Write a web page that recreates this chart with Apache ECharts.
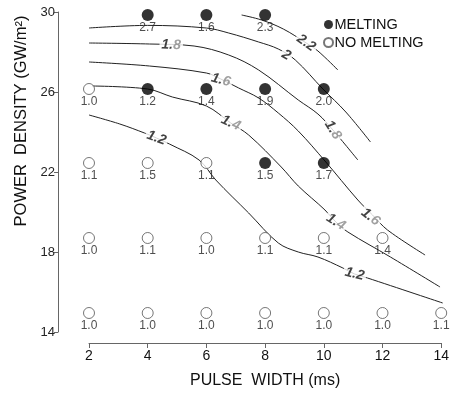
<!DOCTYPE html>
<html>
<head>
<meta charset="utf-8">
<script src="https://cdn.jsdelivr.net/npm/echarts@6/dist/echarts.min.js"></script>
<style>
  html, body { margin: 0; padding: 0; background: #fff; }
  #chart { width: 452px; height: 394px; }
</style>
</head>
<body>
<div id="chart"></div>
<script>
// Axis ticks
const widthTicks = [2, 4, 6, 8, 10, 12, 14];
const densityTicks = [14, 18, 22, 26, 30];

// Test shots: [pulse width (ms), power density (GW/m2), ratio printed under the marker]
const meltingPoints = [
  [4, 29.85, 2.7], [6, 29.85, 1.6], [8, 29.85, 2.3],
  [4, 26.15, 1.2], [6, 26.15, 1.4], [8, 26.15, 1.9], [10, 26.15, 2.0],
  [8, 22.45, 1.5], [10, 22.45, 1.7]
];
const noMeltingPoints = [
  [2, 26.15, 1.0],
  [2, 22.45, 1.1], [4, 22.45, 1.5], [6, 22.45, 1.1],
  [2, 18.7, 1.0], [4, 18.7, 1.1], [6, 18.7, 1.0], [8, 18.7, 1.1], [10, 18.7, 1.1], [12, 18.7, 1.4],
  [2, 14.95, 1.0], [4, 14.95, 1.0], [6, 14.95, 1.0], [8, 14.95, 1.0], [10, 14.95, 1.0], [12, 14.95, 1.0], [14, 14.95, 1.1]
];

// Iso-ratio contour lines: [pulse width, power density]
const contour22 = [[7.2, 29.85], [7.88, 29.6], [8.62, 29.15], [9.4, 28.45], [9.8, 28.05], [10.48, 27.1]];
const contour20 = [[2, 29.2], [4, 29.33], [6, 29.2], [6.76, 28.95], [7.78, 28.5], [8.45, 28.15], [9.03, 27.6], [9.97, 26.15], [10.75, 25.0], [11.59, 23.5]];
const contour18 = [[2, 28.45], [4.06, 28.4], [5.58, 28.3], [6.76, 27.85], [7.78, 27.1], [9.13, 25.6], [9.8, 24.9], [10.31, 24.1], [11.16, 22.6]];
const contour16 = [[2, 27.5], [4.06, 27.3], [6, 26.95], [6.49, 26.65], [7.1, 26.2], [7.78, 25.7], [8.45, 24.95], [9.13, 24.05], [10.04, 22.55], [11.16, 20.6], [11.66, 19.85], [12.17, 19.1], [13.45, 17.85]];
const contour14 = [[2.1, 26.3], [4, 26.15], [4.84, 25.75], [6, 25.3], [6.83, 24.45], [7.44, 23.85], [8.55, 22.25], [9.13, 21.3], [10.04, 20.1], [10.41, 19.5], [10.82, 19.0], [12.27, 17.75], [13.96, 16.25]];
const contour12 = [[2, 24.85], [3.05, 24.4], [3.89, 23.95], [4.3, 23.7], [4.74, 23.4], [5.75, 22.6], [6.32, 21.6], [7.44, 19.95], [8.45, 18.45], [9.13, 18.0], [9.8, 17.75], [10.65, 17.2], [11.05, 16.9], [11.49, 16.7], [14.05, 15.45]];

// Contour level tags: [pulse width, power density, text]
const contourTags = [
  [9.4, 28.45, '2.2'], [8.72, 27.85, '2'],
  [4.8, 28.35, '1.8'], [10.31, 24.1, '1.8'],
  [6.49, 26.6, '1.6'], [11.59, 19.75, '1.6'],
  [6.83, 24.45, '1.4'], [10.41, 19.5, '1.4'],
  [4.3, 23.7, '1.2'], [11.05, 16.9, '1.2']
];
const contourTagAngles = [-35, -30, -2, -58, -15, -38, -25, -32, -20, -14];

const FONT = '"Liberation Sans", Arial, Helvetica, sans-serif';

function contourSeries(data) {
  return {
    type: 'line', data: data, smooth: 0.35, showSymbol: false, silent: true, clip: false, z: 1,
    lineStyle: { color: '#222', width: 1 }
  };
}

// second digit of 1.4 / 1.6 / 1.8 tags is printed grey
function tagText(t) {
  if (t.length === 3 && t[0] === '1' && t[2] !== '2') return '{k|' + t.slice(0, 2) + '}{g|' + t[2] + '}';
  return '{k|' + t + '}';
}

const tagStyle = { fontFamily: FONT, fontSize: 14, fontWeight: 'bold', fontStyle: 'italic' };

const pointLabel = {
  show: true, position: 'bottom', distance: 1,
  fontFamily: FONT, fontSize: 12, color: '#222',
  formatter: p => p.value[2].toFixed(1)
};

const chart = echarts.init(document.getElementById('chart'), null, { renderer: 'canvas' });
chart.setOption({
  backgroundColor: '#fff',
  animation: false,
  textStyle: { fontFamily: FONT },
  grid: { left: 89, right: 8, top: 12, bottom: 62 },
  legend: {
    orient: 'vertical', left: 318, top: 12, itemGap: 3,
    itemWidth: 10, itemHeight: 9, icon: 'circle',
    textStyle: { fontFamily: FONT, fontSize: 14.5, color: '#111', padding: [0, 0, 0, -4] },
    data: ['MELTING', 'NO MELTING']
  },
  xAxis: {
    type: 'value', min: widthTicks[0], max: widthTicks[widthTicks.length - 1], interval: 2,
    offset: 11,
    name: 'PULSE  WIDTH (ms)', nameLocation: 'middle', nameGap: 30,
    nameTextStyle: { fontFamily: FONT, fontSize: 16, color: '#111' },
    axisLine: { show: true, lineStyle: { color: '#666', width: 1 } },
    axisTick: { show: true, length: 5, lineStyle: { color: '#666' } },
    axisLabel: { fontFamily: FONT, fontSize: 14, color: '#111', margin: 6 },
    splitLine: { show: false }
  },
  yAxis: {
    type: 'value', min: densityTicks[0], max: densityTicks[densityTicks.length - 1], interval: 4,
    offset: 31,
    axisLine: { show: true, lineStyle: { color: '#666', width: 1 } },
    axisTick: { show: true, length: 4, lineStyle: { color: '#666' } },
    axisLabel: { fontFamily: FONT, fontSize: 13, color: '#222', margin: 3 },
    splitLine: { show: false }
  },
  graphic: [{
    type: 'text', x: 21, y: 121, rotation: Math.PI / 2,
    style: {
      text: 'POWER  DENSITY (GW/m²)', font: '16.5px ' + FONT, fill: '#111',
      align: 'center', verticalAlign: 'middle'
    }
  }],
  series: [
    contourSeries(contour22), contourSeries(contour20), contourSeries(contour18),
    contourSeries(contour16), contourSeries(contour14), contourSeries(contour12),
    {
      type: 'scatter', silent: true, z: 3, symbolSize: 0, clip: false,
      data: contourTags.map((t, i) => ({
        value: [t[0], t[1]],
        label: { rotate: contourTagAngles[i], formatter: tagText(t[2]) }
      })),
      label: {
        show: true, position: 'inside', backgroundColor: '#fff', padding: [0, 2],
        rich: {
          k: Object.assign({ color: '#111' }, tagStyle),
          g: Object.assign({ color: '#888' }, tagStyle)
        }
      }
    },
    {
      name: 'MELTING', type: 'scatter', z: 5, clip: false,
      symbol: 'circle', symbolSize: 12,
      itemStyle: { color: '#000' },
      label: pointLabel,
      data: meltingPoints
    },
    {
      name: 'NO MELTING', type: 'scatter', z: 5, clip: false,
      symbol: 'circle', symbolSize: 11,
      itemStyle: { color: '#fff', borderColor: '#555', borderWidth: 1 },
      label: pointLabel,
      data: noMeltingPoints
    }
  ]
});
</script>
</body>
</html>
